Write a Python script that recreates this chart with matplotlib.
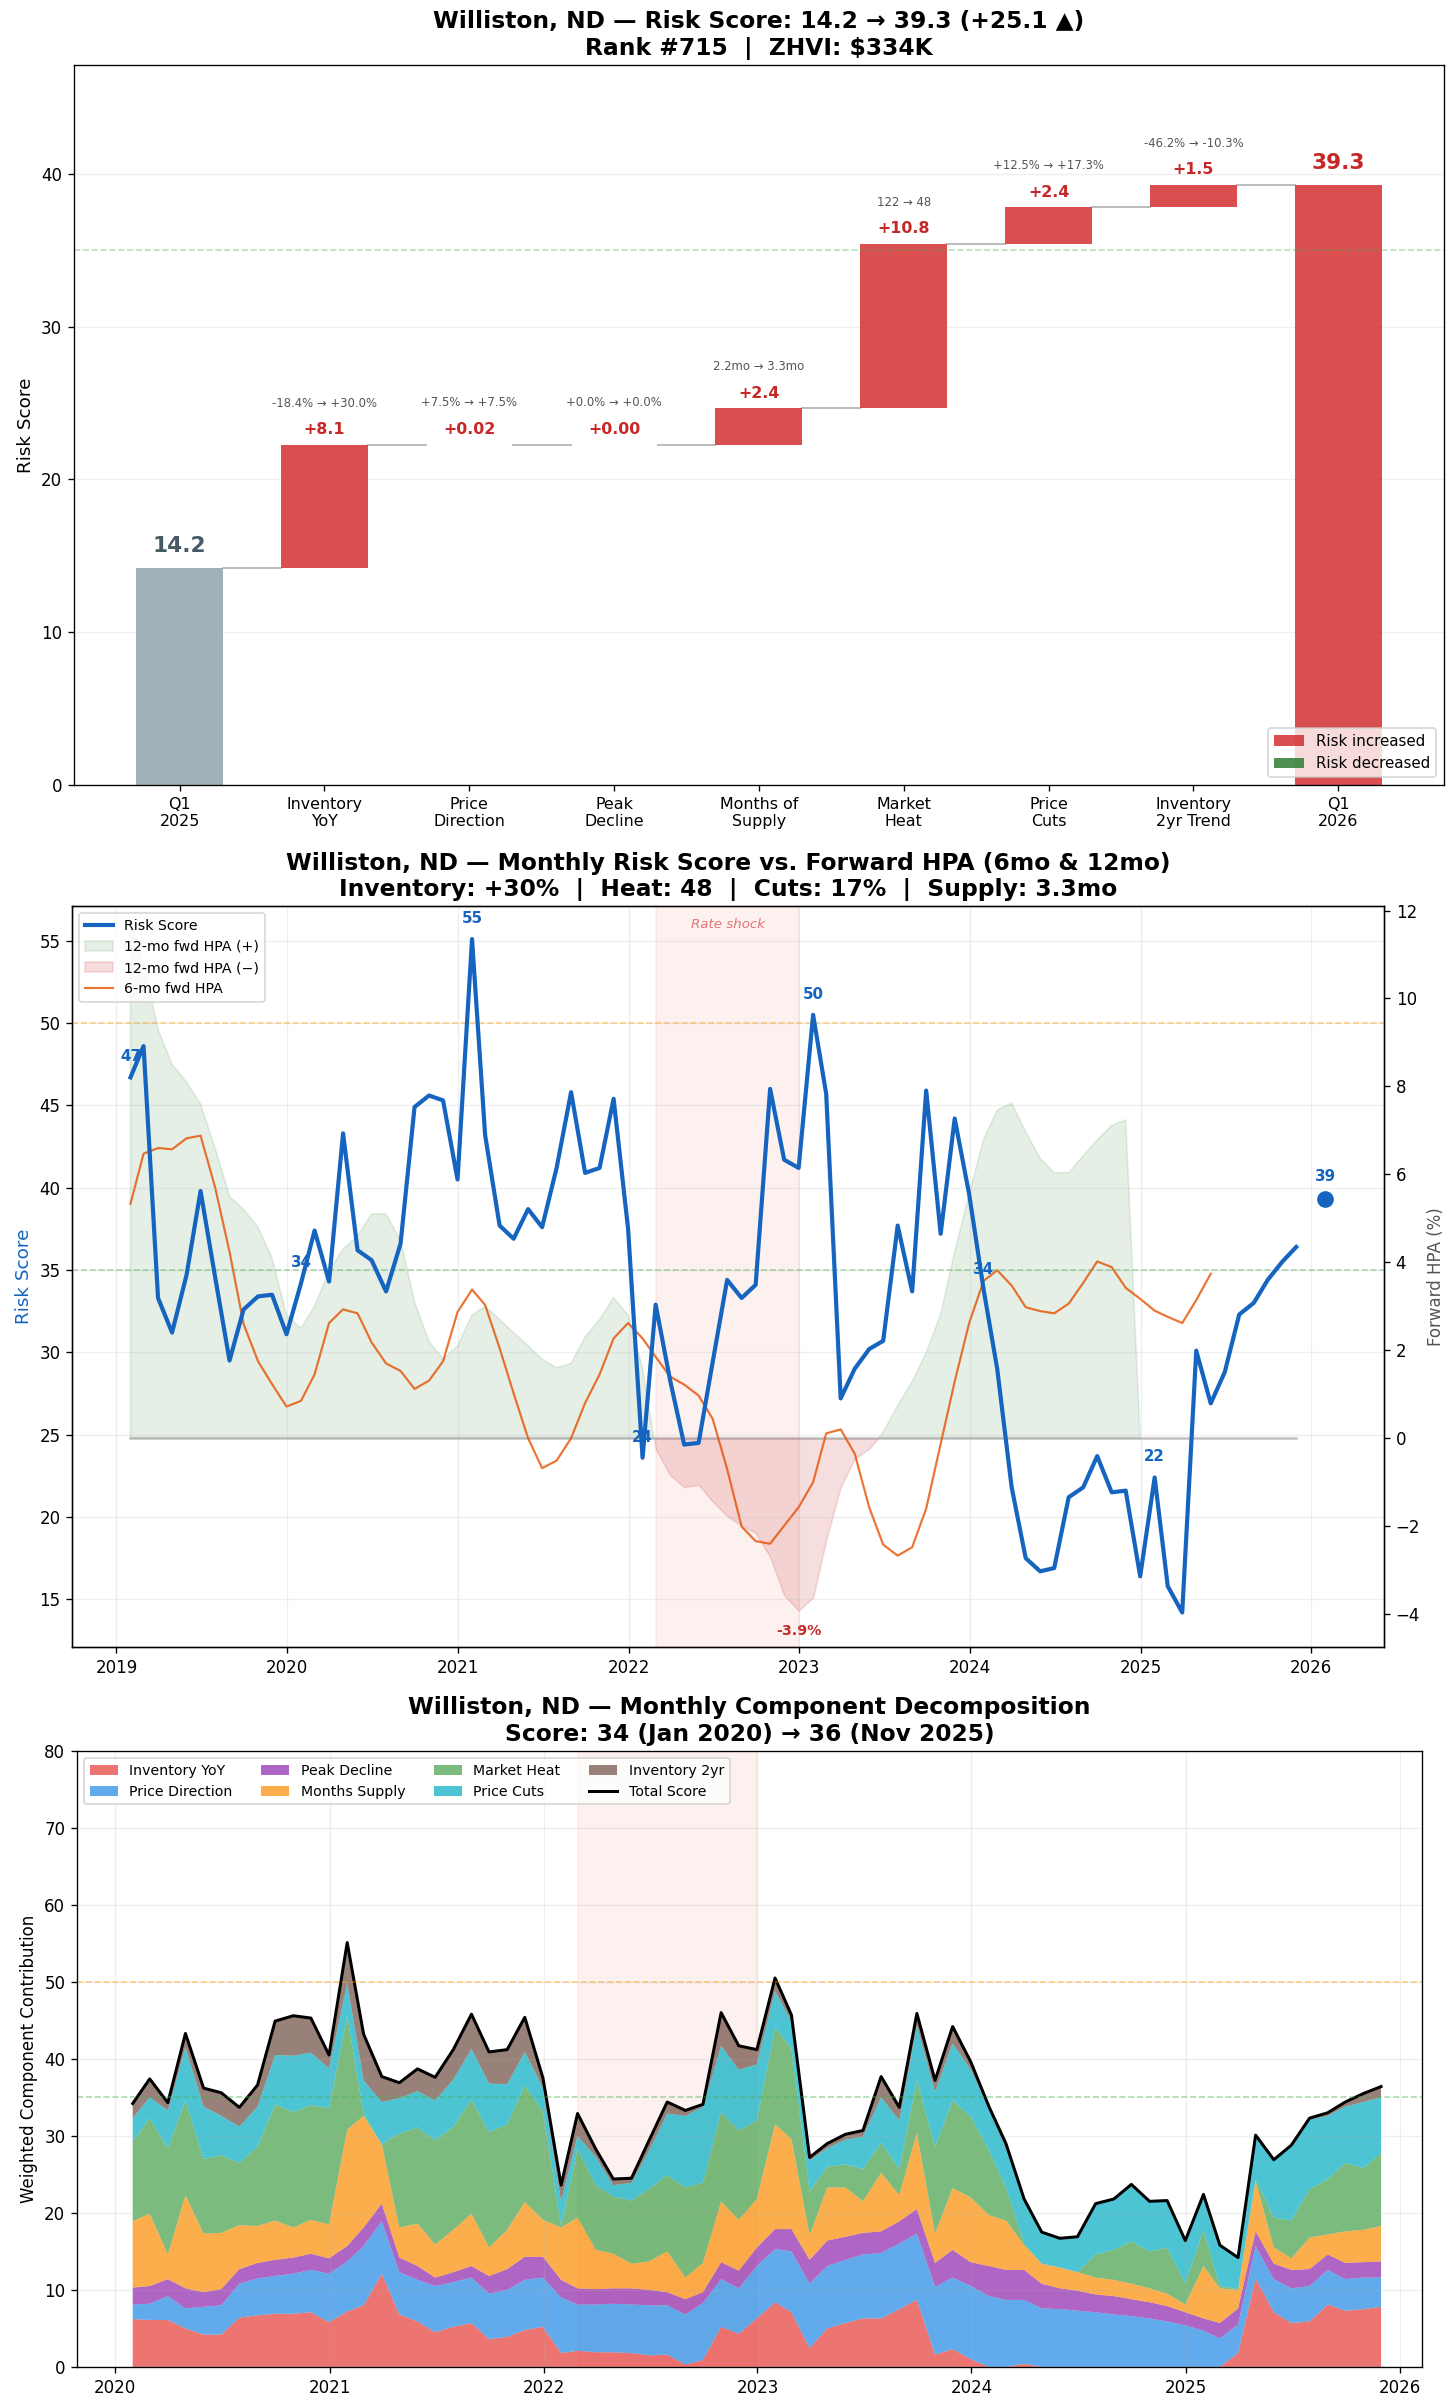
import numpy as np
import pandas as pd
import matplotlib
matplotlib.use('Agg')
import matplotlib.pyplot as plt
import matplotlib.dates as mdates
from matplotlib.patches import Patch

plt.rcParams['font.size'] = 10

## Waterfall (Q1 2025 -> Q1 2026) ##
wf_labels = ['Q1\n2025', 'Inventory\nYoY', 'Price\nDirection', 'Peak\nDecline', 'Months of\nSupply',
             'Market\nHeat', 'Price\nCuts', 'Inventory\n2yr Trend', 'Q1\n2026']
start_score = 14.18
end_score = 39.28
deltas = [8.08, 0.02, 0.00, 2.36, 10.78, 2.38, 1.48]
details = ['-18.4% → +30.0%', '+7.5% → +7.5%', '+0.0% → +0.0%', '2.2mo → 3.3mo',
           '122 → 48', '+12.5% → +17.3%', '-46.2% → -10.3%']

## Monthly risk score (month-end, Jan 2019 .. Nov 2025) ##
risk_score = [46.7, 48.6, 33.3, 31.2, 34.7, 39.8, 34.6, 29.5, 32.6, 33.4, 33.5,
              31.1, 34.2, 37.4, 34.3, 43.3, 36.2, 35.6, 33.7, 36.6, 44.9, 45.6, 45.3,
              40.5, 55.1, 43.2, 37.7, 36.9, 38.7, 37.6, 41.2, 45.8, 40.9, 41.2, 45.4,
              37.5, 23.6, 32.9, 28.3, 24.4, 24.5, 29.4, 34.4, 33.3, 34.1, 46.0, 41.7,
              41.2, 50.5, 45.7, 27.2, 29.0, 30.2, 30.7, 37.7, 33.7, 45.9, 37.2, 44.2,
              39.6, 33.8, 29.0, 21.8, 17.5, 16.7, 16.9, 21.2, 21.8, 23.7, 21.5, 21.6,
              16.4, 22.4, 15.8, 14.2, 30.1, 26.9, 28.8, 32.3, 33.0, 34.4, 35.5, 36.4]
current_date = '2026-01-31'
current_score = 39.3

# 12-month forward HPA (%), Jan 2019 .. Dec 2024 (last value filled with 0)
hpa_12mo = [11.8, 10.8, 9.3, 8.5, 8.1, 7.6, 6.6, 5.5, 5.2, 4.8, 4.1,
            2.8, 2.5, 3.0, 3.8, 4.3, 4.6, 5.1, 5.1, 4.5, 3.1, 2.2, 1.8,
            2.1, 2.8, 3.0, 2.7, 2.4, 2.1, 1.8, 1.6, 1.7, 2.3, 2.7, 3.2,
            2.8, 1.6, -0.24, -0.84, -1.11, -1.06, -1.44, -1.77, -1.99, -2.15, -2.70, -3.57,
            -3.92, -3.62, -2.31, -1.11, -0.46, -0.24, 0.14, 0.74, 1.29, 1.94, 2.82, 4.24,
            5.55, 6.80, 7.46, 7.62, 6.97, 6.36, 6.04, 6.04, 6.42, 6.78, 7.11, 7.24,
            0.0]

# 6-month forward HPA (%), Jan 2019 .. May 2025
hpa_6mo = [5.33, 6.47, 6.60, 6.57, 6.82, 6.88, 5.71, 4.24, 2.60, 1.75, 1.23,
           0.72, 0.85, 1.45, 2.62, 2.93, 2.84, 2.18, 1.70, 1.53, 1.12, 1.31, 1.75,
           2.87, 3.38, 3.03, 2.05, 1.02, 0.0, -0.68, -0.51, 0.0, 0.80, 1.45, 2.27,
           2.62, 2.27, 1.85, 1.40, 1.22, 0.97, 0.44, -0.70, -2.01, -2.34, -2.40, -1.99,
           -1.57, -1.00, 0.11, 0.20, -0.35, -1.57, -2.42, -2.67, -2.48, -1.60, -0.13, 1.29,
           2.62, 3.58, 3.82, 3.47, 2.98, 2.89, 2.84, 3.06, 3.53, 4.02, 3.89, 3.42,
           3.17, 2.90, 2.76, 2.62, 3.14, 3.74]

## Component decomposition (Jan 2020 .. Nov 2025) ##
inv_yoy = [6.2, 6.1, 6.1, 5.0, 4.2, 4.2, 6.4, 6.7, 6.9, 6.9, 7.1, 5.8,
           7.2, 8.0, 12.1, 6.8, 5.9, 4.5, 5.2, 5.7, 3.6, 3.9, 4.8, 5.2,
           1.8, 2.1, 1.9, 1.9, 1.8, 1.5, 1.6, 0.3, 0.9, 5.2, 4.3, 6.3,
           8.4, 7.1, 2.4, 5.0, 5.7, 6.3, 6.3, 7.5, 8.7, 1.6, 2.3, 1.0,
           0.0, 0.0, 0.4, 0.0, 0.0, 0.0, 0.0, 0.0, 0.0, 0.0, 0.0, 0.0,
           0.0, 0.0, 1.8, 11.5, 7.1, 5.7, 5.9, 8.1, 7.3, 7.5, 7.8]
price_dir = [1.9, 2.1, 3.1, 2.6, 3.6, 3.8, 4.4, 4.8, 4.9, 5.2, 5.5, 6.3,
             6.5, 7.7, 6.8, 5.5, 5.4, 6.0, 5.8, 5.9, 5.9, 6.1, 6.5, 6.4,
             7.2, 6.0, 6.2, 6.3, 6.3, 6.5, 6.4, 6.5, 7.4, 6.2, 5.9, 6.8,
             6.9, 7.9, 8.4, 8.1, 8.2, 8.3, 8.5, 8.5, 8.6, 8.8, 9.3, 9.5,
             9.2, 8.7, 8.3, 7.6, 7.5, 7.3, 7.1, 6.8, 6.6, 6.3, 5.9, 5.4,
             4.7, 3.7, 3.7, 4.2, 4.3, 4.5, 4.6, 4.5, 4.1, 4.1, 3.8]
peak_decline = [2.2, 2.3, 2.2, 2.6, 1.9, 2.1, 1.9, 2.0, 2.1, 2.1, 2.1, 2.0,
                2.0, 2.4, 2.3, 1.9, 1.8, 1.1, 1.3, 1.5, 2.3, 2.7, 3.0, 2.7,
                2.3, 2.1, 2.0, 2.0, 2.1, 2.0, 1.7, 2.0, 1.4, 2.2, 2.3, 2.4,
                2.6, 2.9, 3.1, 3.3, 3.0, 2.8, 2.8, 2.9, 3.2, 3.1, 3.6, 3.1,
                3.9, 3.9, 3.9, 3.2, 2.7, 2.6, 2.3, 2.4, 2.2, 2.1, 2.0, 1.7,
                1.6, 2.0, 2.1, 1.9, 2.0, 2.4, 2.2, 2.0, 2.1, 2.0, 2.1]
months_supply = [8.6, 9.4, 3.2, 12.1, 7.6, 7.3, 5.7, 4.8, 5.1, 3.9, 4.4, 4.4,
                 15.1, 14.5, 7.7, 3.9, 5.5, 4.3, 5.5, 6.8, 3.7, 5.1, 7.1, 4.8,
                 6.8, 9.2, 5.1, 4.5, 3.2, 3.7, 5.3, 2.8, 3.8, 7.9, 6.6, 6.3,
                 13.6, 11.7, 3.2, 6.9, 6.4, 4.1, 7.6, 3.4, 9.9, 3.8, 8.0, 8.4,
                 6.6, 6.4, 3.2, 2.6, 2.7, 2.4, 2.2, 2.1, 2.0, 1.8, 1.6, 1.0,
                 6.8, 4.5, 2.4, 6.5, 2.1, 1.5, 4.1, 2.6, 4.1, 4.2, 4.6]
market_heat = [10.4, 12.4, 13.8, 12.3, 9.7, 10.1, 8.1, 10.3, 15.1, 15.0, 14.9, 15.1,
               14.8, 0.3, 0.0, 12.2, 12.5, 13.5, 13.4, 14.8, 15.0, 13.7, 15.1, 14.1,
               0.2, 8.9, 8.4, 7.4, 8.2, 9.4, 9.9, 11.7, 10.4, 11.6, 11.6, 10.2,
               12.6, 11.8, 5.7, 2.7, 3.0, 4.2, 3.9, 3.4, 6.8, 11.3, 11.4, 10.5,
               8.4, 4.3, 0.3, 0.0, 0.0, 0.0, 3.0, 3.9, 5.5, 4.8, 6.0, 2.7,
               4.7, 0.3, 0.1, 0.3, 3.9, 4.9, 6.3, 7.2, 8.9, 8.0, 9.5]
price_cuts = [3.0, 2.7, 4.9, 6.9, 6.8, 5.1, 4.7, 5.2, 6.4, 7.3, 6.8, 5.2,
              4.2, 4.3, 5.5, 4.6, 4.7, 5.2, 6.1, 6.6, 6.3, 5.2, 4.4, 3.0,
              3.2, 1.7, 3.7, 1.5, 2.3, 5.0, 8.0, 9.3, 9.9, 8.6, 7.9, 7.3,
              4.7, 3.4, 4.0, 2.4, 3.2, 4.2, 5.9, 6.3, 7.1, 7.1, 7.4, 6.1,
              5.5, 5.0, 5.5, 4.0, 3.7, 4.5, 6.5, 6.5, 7.3, 6.4, 6.0, 5.5,
              4.5, 5.2, 4.0, 5.6, 7.4, 9.7, 9.0, 8.2, 7.3, 8.6, 7.2]
inv_2yr = [1.9, 2.4, 1.0, 1.8, 2.4, 3.0, 2.5, 2.8, 4.4, 5.2, 4.5, 1.7,
           5.3, 6.0, 3.3, 2.0, 2.9, 3.0, 3.9, 4.5, 4.1, 4.5, 4.5, 1.3,
           2.1, 2.9, 1.0, 0.8, 0.6, 1.3, 1.5, 0.7, 0.3, 4.3, 3.1, 1.9,
           1.7, 0.9, 0.4, 0.6, 0.7, 0.8, 2.7, 1.7, 1.6, 1.5, 2.2, 1.0,
           0.2, 0.7, 0.2, 0.1, 0.1, 0.1, 0.1, 0.1, 0.1, 0.1, 0.1, 0.1,
           0.1, 0.1, 0.1, 0.1, 0.1, 0.1, 0.2, 0.4, 0.6, 1.1, 1.4]
comp_labels = ['Inventory YoY', 'Price Direction', 'Peak Decline', 'Months Supply',
               'Market Heat', 'Price Cuts', 'Inventory 2yr']
comp_colors = ['#e53935', '#1e88e5', '#8e24aa', '#fb8c00', '#43a047', '#00acc1', '#6d4c41']

city = 'Williston, ND'
RED = '#d32f2f'
GREEN = '#2e7d32'
BLUE = '#1565c0'

fig = plt.figure(figsize=(1456 / 120, 2401 / 120), dpi=120)

#### 1) waterfall ####
ax = fig.add_axes([0.0508, 0.6731, 0.9409, 0.2999])
ax.bar(0, start_score, width=0.6, color='#90a4ae', alpha=0.85, zorder=2)
ax.text(0, start_score + 0.8, f'{start_score:.1f}', ha='center', va='bottom',
        fontsize=13, fontweight='bold', color='#455a64')
running = start_score
for i, d in enumerate(deltas):
    col = RED if d >= 0 else GREEN
    ax.bar(i + 1, d, bottom=running, width=0.6, color=col, alpha=0.85, zorder=2)
    ax.plot([i + 0.3, i + 0.7], [running, running], color='#bdbdbd', lw=1.2, zorder=1)
    top = running + max(d, 0)
    lbl = f'{d:+.2f}' if abs(d) < 0.1 else f'{d:+.1f}'
    ax.text(i + 1, top + 0.5, lbl, ha='center', va='bottom', fontsize=9.5,
            fontweight='bold', color='#c62828')
    ax.text(i + 1, top + 2.3, details[i], ha='center', va='bottom', fontsize=7, color='#555555')
    running += d
ax.plot([7.3, 7.7], [running, running], color='#bdbdbd', lw=1.2, zorder=1)
ax.bar(8, end_score, width=0.6, color=RED, alpha=0.85, zorder=2)
ax.text(8, end_score + 0.8, f'{end_score:.1f}', ha='center', va='bottom',
        fontsize=13, fontweight='bold', color='#c62828')
ax.axhline(35, color='#4caf50', ls='--', lw=1, alpha=0.4)
ax.set_xticks(range(len(wf_labels)))
ax.set_xticklabels(wf_labels, fontsize=9.5)
ax.set_ylim(0, end_score * 1.2)
ax.set_ylabel('Risk Score', fontsize=11)
ax.grid(axis='y', alpha=0.2)
ax.legend(handles=[Patch(facecolor=RED, alpha=0.85, label='Risk increased'),
                   Patch(facecolor=GREEN, alpha=0.85, label='Risk decreased')],
          loc='lower right', fontsize=9)
ax.set_title(f'{city} — Risk Score: {start_score:.1f} → {end_score:.1f} '
             f'(+{end_score - start_score:.1f} ▲)\nRank #715  |  ZHVI: \\$334K',
             fontsize=14, fontweight='bold')

#### 2) risk score vs forward HPA ####
dates = pd.date_range('2019-02-01', periods=len(risk_score), freq='MS') - pd.Timedelta(days=1)
risk = np.array(risk_score)
h12 = np.array(hpa_12mo)
h6 = np.array(hpa_6mo)

ax1 = fig.add_axes([0.0495, 0.3140, 0.9011, 0.3086])
ax2 = ax1.twinx()
ax1.set_zorder(ax2.get_zorder() + 1)
ax1.patch.set_visible(False)

fp = ax2.fill_between(dates[:len(h12)], 0, h12, where=h12 >= 0, interpolate=True,
                      color=GREEN, alpha=0.12, label='12-mo fwd HPA (+)')
fn = ax2.fill_between(dates[:len(h12)], 0, h12, where=h12 < 0, interpolate=True,
                      color='#c62828', alpha=0.15, label='12-mo fwd HPA (−)')
ax2.plot(dates, np.zeros(len(dates)), color='#999999', lw=1.5, alpha=0.6)
l6, = ax2.plot(dates[:len(h6)], h6, color='#e65100', lw=1.3, alpha=0.8, label='6-mo fwd HPA')
imin = int(np.argmin(h12))
ax2.text(dates[imin], h12[imin] - 0.3, f'{h12[imin]:.1f}%', ha='center', va='top',
         fontsize=8.5, fontweight='bold', color='#c62828')
ax2.set_ylim(-4.75, 12.1)
ax2.set_ylabel('Forward HPA (%)', fontsize=10, color='#555555')

ax1.axvspan(pd.Timestamp('2022-03-01'), pd.Timestamp('2022-12-31'), color='#e53935', alpha=0.07)
ax1.text(pd.Timestamp('2022-08-01'), 56.4, 'Rate shock', ha='center', va='top',
         fontsize=8, style='italic', color='#e57373')
ax1.axhline(50, color='#ff9800', ls='--', lw=1, alpha=0.45)
ax1.axhline(35, color='#4caf50', ls='--', lw=1, alpha=0.45)
lr, = ax1.plot(dates, risk, color=BLUE, lw=2.5, label='Risk Score')
for i in range(0, len(risk), 12):
    ax1.text(dates[i], risk[i] + 0.8, f'{risk[i]:.0f}', ha='center', va='bottom',
             fontsize=9, fontweight='bold', color=BLUE)
ax1.plot(pd.Timestamp(current_date), current_score, 'o', ms=9, color=BLUE)
ax1.text(pd.Timestamp(current_date), current_score + 0.9, f'{current_score:.0f}',
         ha='center', va='bottom', fontsize=9, fontweight='bold', color=BLUE)
ax1.set_ylim(12.1, 57.1)
ax1.set_xlim(pd.Timestamp('2018-09-28'), pd.Timestamp('2026-06-06'))
ax1.set_ylabel('Risk Score', fontsize=11, color=BLUE)
ax1.xaxis.set_major_locator(mdates.YearLocator())
ax1.xaxis.set_major_formatter(mdates.DateFormatter('%Y'))
ax1.grid(alpha=0.2)
ax1.legend(handles=[lr, fp, fn, l6], loc='upper left', fontsize=8.5)
ax1.set_title(f'{city} — Monthly Risk Score vs. Forward HPA (6mo & 12mo)\n'
              'Inventory: +30%  |  Heat: 48  |  Cuts: 17%  |  Supply: 3.3mo',
              fontsize=14, fontweight='bold')

#### 3) component decomposition ####
comp_dates = dates[12:]
comps = [inv_yoy, price_dir, peak_decline, months_supply, market_heat, price_cuts, inv_2yr]
total = np.sum(np.array(comps), axis=0)

ax3 = fig.add_axes([0.0529, 0.0142, 0.9238, 0.2566])
ax3.axvspan(pd.Timestamp('2022-03-01'), pd.Timestamp('2022-12-31'), color='#e53935', alpha=0.07)
ax3.stackplot(comp_dates, *comps, colors=comp_colors, alpha=0.7, labels=comp_labels)
ax3.plot(comp_dates, total, color='black', lw=1.8, label='Total Score')
ax3.axhline(50, color='#ff9800', ls='--', lw=1, alpha=0.45)
ax3.axhline(35, color='#4caf50', ls='--', lw=1, alpha=0.45)
ax3.set_ylim(0, 80)
ax3.set_xlim(pd.Timestamp('2019-10-28'), pd.Timestamp('2026-02-08'))
ax3.xaxis.set_major_locator(mdates.YearLocator())
ax3.xaxis.set_major_formatter(mdates.DateFormatter('%Y'))
ax3.set_ylabel('Weighted Component Contribution', fontsize=10)
ax3.grid(alpha=0.2)
ax3.legend(loc='upper left', ncol=4, fontsize=8.5)
ax3.set_title(f'{city} — Monthly Component Decomposition\n'
              f'Score: {total[0]:.0f} ({comp_dates[0]:%b %Y}) → {total[-1]:.0f} ({comp_dates[-1]:%b %Y})',
              fontsize=14, fontweight='bold')

fig.savefig('out.png', dpi=120)
